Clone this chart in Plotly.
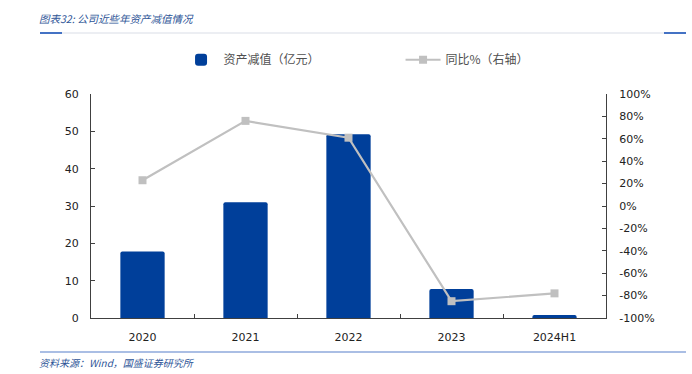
import plotly.graph_objects as go

categories = ["2020", "2021", "2022", "2023", "2024H1"]
impairment = [17.8, 31.0, 49.2, 7.8, 0.8]
yoy_pct = [23, 76, 61, -85, -78]

left_ticks = [0, 10, 20, 30, 40, 50, 60]
right_ticks = [-100, -80, -60, -40, -20, 0, 20, 40, 60, 80, 100]
right_labels = [f"{v}%" for v in right_ticks]

title_text = "<i>图表32: 公司近些年资产减值情况</i>"
source_text = "<i>资料来源：Wind，国盛证券研究所</i>"

BLUE = "#003F9A"
GREY = "#C0C0C0"
TXT = "#404040"
FONT = "DejaVu Sans, Verdana, sans-serif"
CJK = "Noto Sans CJK SC"
TICKFONT = dict(family=FONT, size=11, color="#222222")

fig = go.Figure()
fig.add_trace(go.Bar(
    x=categories, y=impairment, name="资产减值（亿元）",
    marker=dict(color=BLUE, line=dict(width=0)), width=0.43, yaxis="y",
))
fig.add_trace(go.Scatter(
    x=categories, y=yoy_pct, name="同比%（右轴）", yaxis="y2",
    mode="lines+markers",
    line=dict(color=GREY, width=2.2),
    marker=dict(symbol="square", size=8, color=GREY),
))

fig.update_layout(
    width=692, height=374,
    margin=dict(l=91, r=86, t=94, b=56, autoexpand=False),
    paper_bgcolor="white", plot_bgcolor="white",
    showlegend=True,
    barcornerradius=2,
    font=dict(family=FONT, size=12, color=TXT),
    legend=dict(
        orientation="h", x=0.17, y=1.153, xanchor="left", yanchor="middle",
        font=dict(family=CJK, size=12, color="#505050"),
        entrywidth=172, entrywidthmode="pixels", itemwidth=35,
        bgcolor="rgba(0,0,0,0)",
    ),
    xaxis=dict(
        type="category", showline=True, linecolor="#404040", linewidth=1,
        ticks="inside", ticklen=4, tickcolor="#404040", tickson="boundaries",
        tickfont=TICKFONT, ticklabelstandoff=9,
        showgrid=False, zeroline=False, automargin=False,
    ),
    yaxis=dict(
        range=[0, 60], tickvals=left_ticks, showline=True, linecolor="#404040",
        linewidth=1, ticks="inside", ticklen=4, tickcolor="#404040",
        showgrid=False, zeroline=False, automargin=False,
        tickfont=TICKFONT, ticklabelstandoff=9,
    ),
    yaxis2=dict(
        range=[-100, 100], tickvals=right_ticks, ticktext=right_labels,
        overlaying="y", side="right", showline=True, linecolor="#404040",
        linewidth=1, ticks="inside", ticklen=4, tickcolor="#404040",
        showgrid=False, zeroline=False, automargin=False,
        tickfont=TICKFONT, ticklabelstandoff=10,
    ),
)

def px_x(p):
    return (p - 91) / 515

def px_y(p):
    return (318 - p) / 224

# header / footer decoration
fig.add_annotation(text=title_text, xref="paper", yref="paper",
                   x=px_x(37), y=px_y(18), xanchor="left", yanchor="middle",
                   showarrow=False, font=dict(family=CJK, size=10.5, color="#2E5597"))
fig.add_annotation(text=source_text, xref="paper", yref="paper",
                   x=px_x(37), y=px_y(362), xanchor="left", yanchor="middle",
                   showarrow=False, font=dict(family=CJK, size=10, color="#2E5597"))

fig.add_shape(type="line", xref="paper", yref="paper", x0=px_x(40), x1=px_x(686),
              y0=px_y(33), y1=px_y(33), line=dict(color="#D9DDE6", width=1))
fig.add_shape(type="line", xref="paper", yref="paper", x0=px_x(40), x1=px_x(62),
              y0=px_y(33), y1=px_y(33), line=dict(color="#4472C4", width=2))
fig.add_shape(type="line", xref="paper", yref="paper", x0=px_x(664), x1=px_x(686),
              y0=px_y(33), y1=px_y(33), line=dict(color="#4472C4", width=2))
fig.add_shape(type="line", xref="paper", yref="paper", x0=px_x(40), x1=px_x(686),
              y0=px_y(352), y1=px_y(352), line=dict(color="#8EA9DB", width=1.5))

fig.write_html("out.html", config={"displayModeBar": False},
               post_script="document.body.style.margin='0';document.body.style.padding='0';")
